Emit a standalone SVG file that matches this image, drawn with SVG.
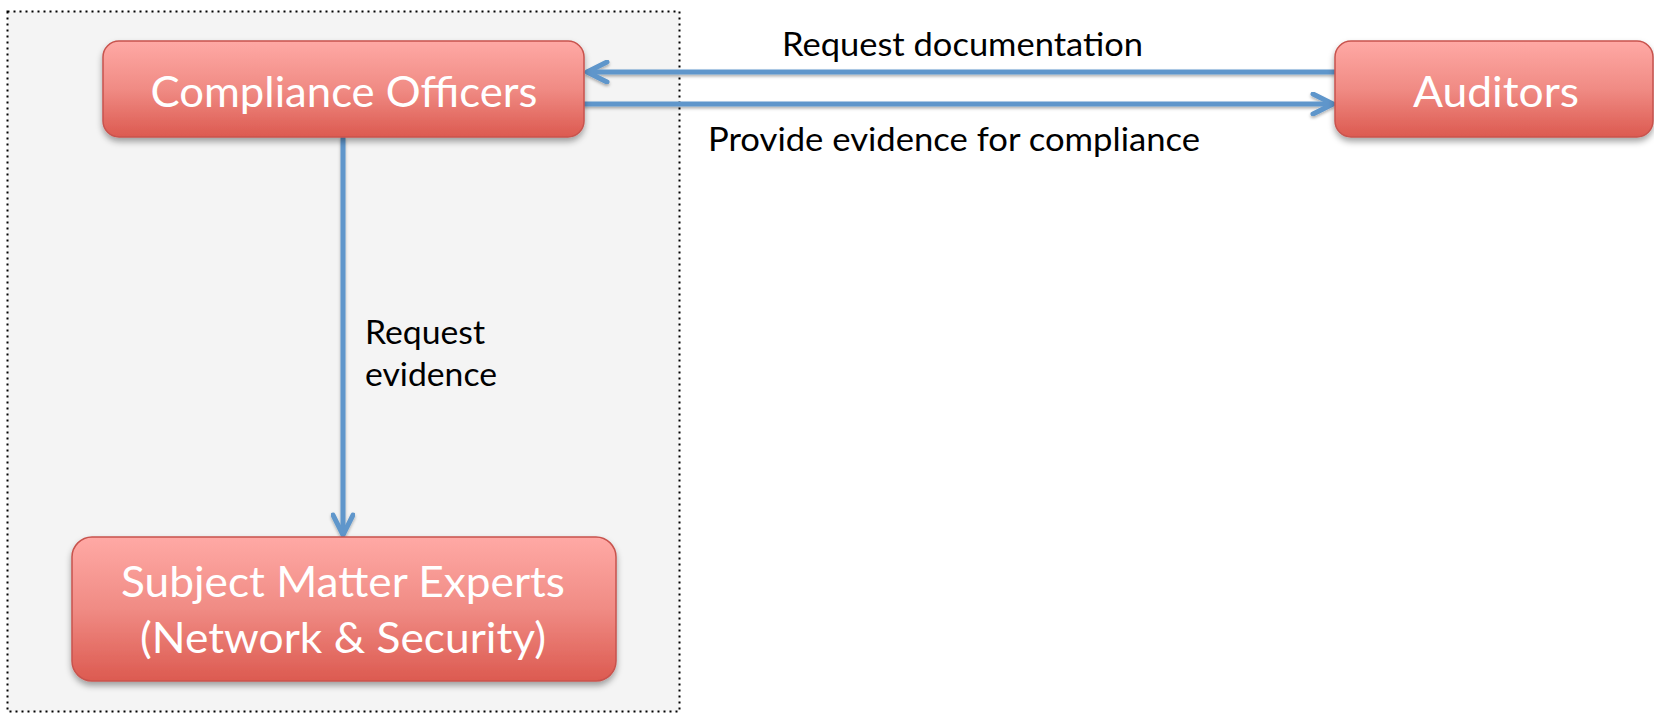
<svg xmlns="http://www.w3.org/2000/svg" width="1654" height="713" viewBox="0 0 1654 713">
  <defs>
    <linearGradient id="nodeFill" x1="0" y1="0" x2="0" y2="1">
      <stop offset="0" stop-color="#FFA9A5"/>
      <stop offset="0.5" stop-color="#F08B84"/>
      <stop offset="1" stop-color="#DC5A50"/>
    </linearGradient>
    <filter id="nodeShadow" x="-10%" y="-20%" width="120%" height="150%">
      <feDropShadow dx="0" dy="4" stdDeviation="3" flood-color="#000" flood-opacity="0.35"/>
    </filter>
    <filter id="lineShadow" x="-5%" y="-50%" width="110%" height="200%">
      <feDropShadow dx="0" dy="2" stdDeviation="1.5" flood-color="#000" flood-opacity="0.3"/>
    </filter>
    <marker id="chevron" viewBox="-24 -12 28 24" refX="0" refY="0" markerWidth="28" markerHeight="24" markerUnits="userSpaceOnUse" orient="auto">
      <path d="M -20 -10 L 0 0 L -20 10" fill="none" stroke="#5F96CB" stroke-width="5" stroke-linecap="round" stroke-linejoin="round"/>
    </marker>
    <style>
      .node rect { fill: url(#nodeFill); stroke: #C8534D; stroke-width: 1.5; filter: url(#nodeShadow); }
      .node text { font-family: Lato, "Open Sans", "Liberation Sans", sans-serif; font-size: 42px; fill: #FFFFFF; text-anchor: middle; }
      .conn { fill: none; stroke: #5F96CB; stroke-width: 5; marker-end: url(#chevron); }
      .label { font-family: Lato, "Open Sans", "Liberation Sans", sans-serif; font-size: 33px; fill: #000000; }
    </style>
  </defs>

  <rect width="1654" height="713" fill="#FFFFFF"/>

  <!-- internal team boundary -->
  <g id="team-boundary">
    <rect x="7.5" y="11.5" width="672" height="700" fill="#F4F4F4" stroke="#000000" stroke-width="2" stroke-dasharray="2 4"/>
  </g>

  <!-- connectors -->
  <g id="connectors" filter="url(#lineShadow)">
    <line class="conn" x1="1335" y1="72" x2="587" y2="72"/>
    <line class="conn" x1="583" y1="104" x2="1333" y2="104"/>
    <line class="conn" x1="343" y1="137" x2="343" y2="535"/>
  </g>

  <!-- connector labels -->
  <g id="labels">
    <text class="label" x="782" y="56" textLength="361" lengthAdjust="spacingAndGlyphs">Request documentation</text>
    <text class="label" x="708" y="151" textLength="492" lengthAdjust="spacingAndGlyphs">Provide evidence for compliance</text>
    <text class="label" x="365" y="344" textLength="120" lengthAdjust="spacingAndGlyphs">Request</text>
    <text class="label" x="365" y="386" textLength="132" lengthAdjust="spacingAndGlyphs">evidence</text>
  </g>

  <g id="compliance-officers" class="node">
    <rect x="103" y="41" width="481" height="96" rx="16" ry="16"/>
    <text x="344" y="107" textLength="387" lengthAdjust="spacingAndGlyphs">Compliance Officers</text>
  </g>

  <g id="auditors" class="node">
    <rect x="1335" y="41" width="318" height="96" rx="16" ry="16"/>
    <text x="1496" y="107" textLength="166" lengthAdjust="spacingAndGlyphs">Auditors</text>
  </g>

  <g id="subject-matter-experts" class="node">
    <rect x="72" y="537" width="544" height="144" rx="20" ry="20"/>
    <text x="343" y="597" textLength="444" lengthAdjust="spacingAndGlyphs">Subject Matter Experts</text>
    <text x="343" y="653" textLength="406" lengthAdjust="spacingAndGlyphs">(Network &amp; Security)</text>
  </g>
</svg>
